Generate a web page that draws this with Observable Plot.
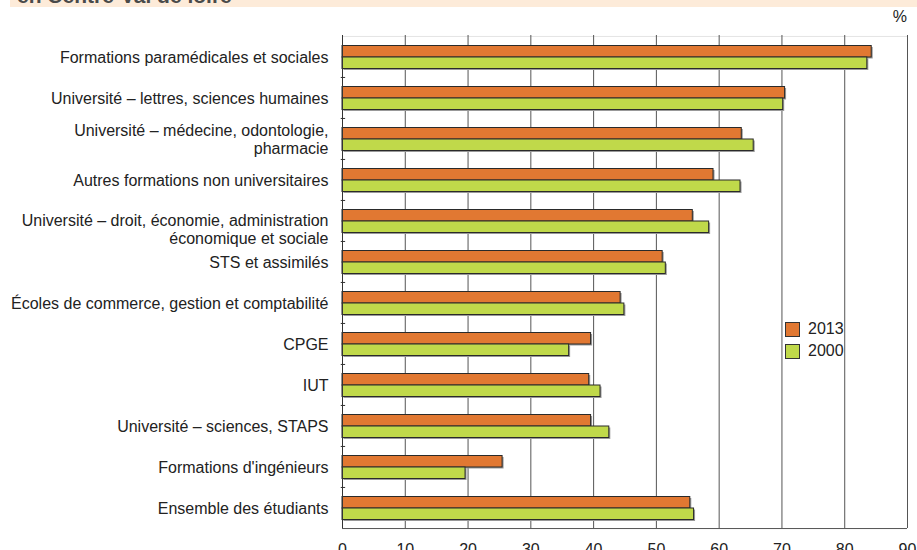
<!DOCTYPE html>
<html>
<head>
<meta charset="utf-8">
<script src="https://cdn.jsdelivr.net/npm/d3@7"></script>
<script src="https://cdn.jsdelivr.net/npm/@observablehq/plot@0.6"></script>
<style>
  html, body { margin: 0; padding: 0; background: #fff; }
  body { width: 917px; height: 550px; position: relative; overflow: hidden;
         font-family: "Liberation Sans", Arial, sans-serif; }
  #band { position: absolute; left: 10px; top: 0; width: 907px; height: 7px;
          background: #FDEBD9; overflow: hidden; }
  #band span { position: absolute; left: 7px; top: -15px; font-weight: bold;
               font-size: 21px; line-height: 21px; color: #4a4a4a; white-space: nowrap; }
  #unit { position: absolute; right: 10px; top: 8px; font-size: 16px; color: #222; }
  #legend { position: absolute; left: 785px; top: 318px; font-size: 16px; color: #222; }
  #legend .row { display: flex; align-items: center; height: 22px; }
  #legend .sw { width: 13px; height: 13px; border: 1px solid #333; margin-right: 8px; box-sizing: content-box; }
  #chart { position: absolute; left: 0; top: 0; }
</style>
</head>
<body>
<div id="band"><span>en Centre-Val de loire</span></div>
<div id="chart"></div>
<div id="unit">%</div>
<div id="legend"></div>
<script>
const categories = [
  "Formations paramédicales et sociales",
  "Université – lettres, sciences humaines",
  "Université – médecine, odontologie,\npharmacie",
  "Autres formations non universitaires",
  "Université – droit, économie, administration\néconomique et sociale",
  "STS et assimilés",
  "Écoles de commerce, gestion et comptabilité",
  "CPGE",
  "IUT",
  "Université – sciences, STAPS",
  "Formations d'ingénieurs",
  "Ensemble des étudiants"
];
const v2013 = [84.3, 70.5, 63.6, 59.1, 55.8, 51.0, 44.3, 39.6, 39.3, 39.6, 25.5, 55.4];
const v2000 = [83.6, 70.2, 65.5, 63.4, 58.4, 51.5, 44.9, 36.1, 41.1, 42.5, 19.6, 56.0];
const years = ["2013", "2000"];
const xTicks = [0, 10, 20, 30, 40, 50, 60, 70, 80, 90];

const colors = ["#E17832", "#C0D94A"];
const W = 917, H = 550;
const mt = 35, mb = 22, ml = 342, mr = 10;
const bw = (H - mt - mb) / categories.length;

const rows2013 = categories.map((c, i) => ({category: c, year: years[0], value: v2013[i]}));
const rows2000 = categories.map((c, i) => ({category: c, year: years[1], value: v2000[i]}));

const shiftedLabel = categories[4];
const normalLabels = categories.filter(c => c !== shiftedLabel);

const textStyle = {fontSize: 16, fill: "#222", textAnchor: "end", lineHeight: 1.15};

const chart = Plot.plot({
  width: W, height: H,
  marginTop: mt, marginBottom: mb, marginLeft: ml, marginRight: mr,
  style: {fontFamily: '"Liberation Sans", Arial, sans-serif', fontSize: "16px", color: "#222", background: "transparent"},
  x: {domain: [0, 90], axis: null},
  y: {domain: categories, padding: 0, axis: null},
  color: {domain: years, range: colors},
  marks: [
    Plot.ruleY([categories[0]], {dy: -bw / 2, stroke: "#e4e4e4", strokeWidth: 1}),
    Plot.ruleX(xTicks.slice(1), {stroke: "#555", strokeWidth: 1}),
    // shadows
    Plot.barX(rows2013, {x: "value", y: "category", fill: "#999", insetTop: 9.5, insetBottom: 20, dx: 1.5, dy: 1.5}),
    Plot.barX(rows2000, {x: "value", y: "category", fill: "#999", insetTop: 21, insetBottom: 8.5, dx: 1.5, dy: 1.5}),
    // bars
    Plot.barX(rows2013, {x: "value", y: "category", fill: "year", stroke: "#2a2a2a", strokeWidth: 1, insetTop: 9.5, insetBottom: 20}),
    Plot.barX(rows2000, {x: "value", y: "category", fill: "year", stroke: "#2a2a2a", strokeWidth: 1, insetTop: 21, insetBottom: 8.5}),
    // axes
    Plot.ruleX([0], {stroke: "#333", strokeWidth: 1}),
    Plot.ruleY([categories[categories.length - 1]], {dy: bw / 2, stroke: "#555", strokeWidth: 1}),
    Plot.ruleY(categories.slice(1), {dy: -bw / 2, x1: -0.2, x2: 0.5, stroke: "#333", strokeWidth: 1}),
    Plot.axisX(xTicks, {tickSize: 0, tickPadding: 15, label: null, fontSize: 16, tickFormat: d => String(d)}),
    Plot.text(normalLabels, {y: d => d, x: 0, text: d => d, dx: -14, ...textStyle}),
    Plot.text([shiftedLabel], {y: d => d, x: 0, text: d => d, dx: -14, dy: 8, ...textStyle})
  ]
});
document.getElementById("chart").appendChild(chart);

const legend = document.getElementById("legend");
years.forEach((y, i) => {
  const row = document.createElement("div");
  row.className = "row";
  const sw = document.createElement("div");
  sw.className = "sw";
  sw.style.background = colors[i];
  const t = document.createElement("span");
  t.textContent = y;
  row.appendChild(sw);
  row.appendChild(t);
  legend.appendChild(row);
});
</script>
</body>
</html>
